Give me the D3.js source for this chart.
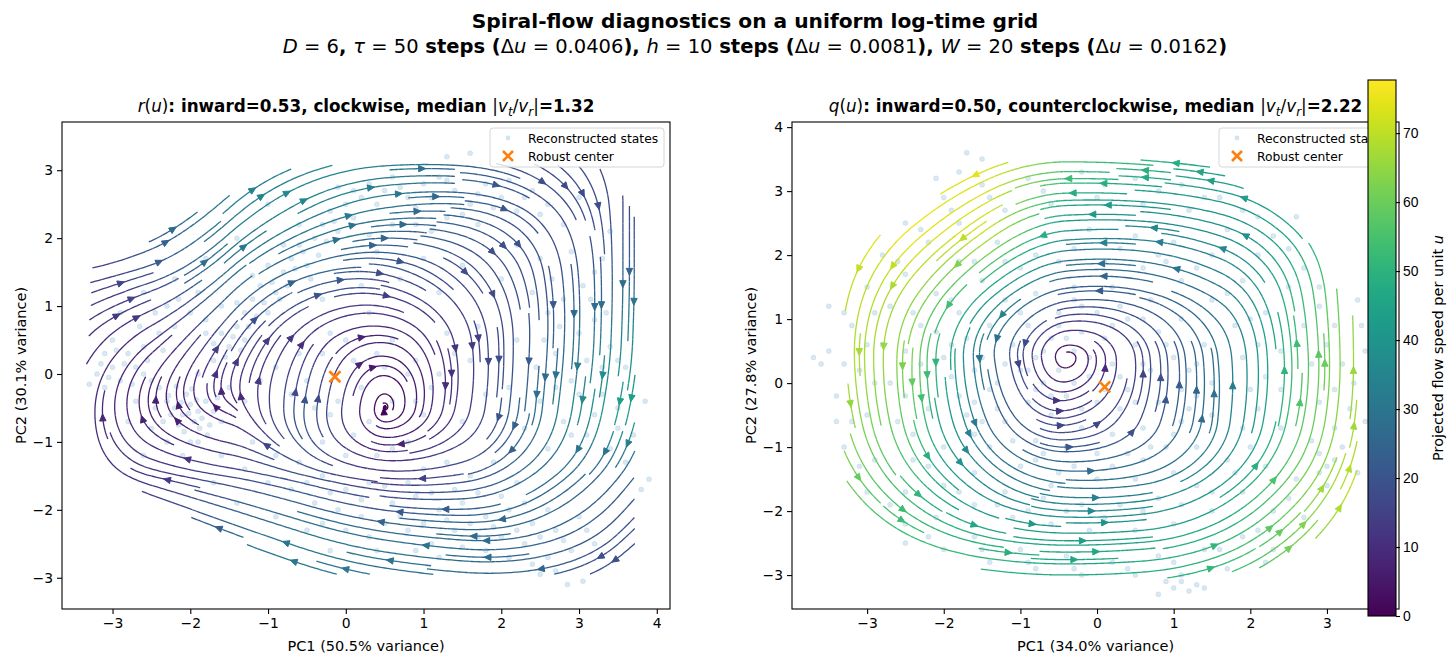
<!DOCTYPE html>
<html lang="en">
<head>
<meta charset="UTF-8">
<title>Spiral-flow diagnostics</title>
<script src="https://d3js.org/d3.v7.min.js"></script>
<style>
  body { margin: 0; background: #fff; }
  svg { display: block; font-family: "DejaVu Sans", sans-serif; }
  text { white-space: pre; }
  .tick text { font-size: 13.9px; fill: #000; }
  .tick line { stroke: #000; stroke-width: 1.1; }
</style>
</head>
<body>
<svg id="chart" width="1456" height="665"></svg>
<script>
// ---- data ----
const speedMax = 77.7;
const colorTicks = [0, 10, 20, 30, 40, 50, 60, 70];

// left panel r(u): flow field nodes, [direction deg, speed]
const leftXNodes = [-3.5, -2.5, -1.5, -0.5, 0.5, 1.5, 2.5, 3.5, 4.5];
const leftYNodes = [3.5, 2.5, 1.5, 0.5, -0.5, -1.5, -2.5, -3.5];
const leftFlow = [
  [[25,14],[35,22],[35,32],[15,38],[0,34],[-5,24],[-25,18],[-70,16],[-90,16]],
  [[15,14],[35,25],[45,34],[30,36],[10,32],[-5,24],[-40,18],[-90,17],[-90,18]],
  [[10,12],[20,20],[45,30],[20,26],[-15,18],[-45,18],[-80,18],[-90,24],[-90,26]],
  [[55,10],[40,10],[60,16],[55,10],[-5,6],[-80,12],[-92,22],[-92,36],[-92,40]],
  [[85,10],[100,6],[150,5],[85,22],[0,0],[-100,12],[-95,30],[-100,44],[-100,44]],
  [[100,10],[165,12],[170,16],[165,20],[175,10],[190,18],[220,28],[235,24],[240,22]],
  [[120,12],[145,18],[155,28],[160,32],[170,30],[175,28],[195,25],[225,18],[230,18]],
  [[130,12],[145,20],[155,30],[160,32],[170,30],[175,28],[185,25],[210,18],[210,18]]
];
const leftHull = [[-3.28,1.58],[-2.6,1.9],[-2.05,2.28],[-1.55,2.65],[-0.95,2.98],[-0.5,3.06],[0.5,3.1],
  [2.5,3.1],[3.25,3.05],[3.6,2.6],[3.72,2.3],[3.72,-2.5],[3.4,-2.95],[-0.4,-2.95],[-1.2,-2.55],
  [-1.85,-2.22],[-2.9,-1.55],[-3.28,-1.1],[-3.35,-0.2]];
const leftBounds = [-3.35, 3.75, -2.98, 3.12];
const leftCenter = [-0.14, -0.04];
const leftStates = [
  [-2.3,-0.4],[-2.2,-0.5],[-2.1,-0.6],[-2.0,-0.45],[-1.9,-0.55],[-1.95,-0.7],[-2.15,-0.75],[-1.8,-0.4],
  [-2.05,-0.3],[-1.85,-0.65],[-2.25,-0.6],[-1.75,-0.75],[-2.4,-0.2],[-2.5,-0.1],[-2.6,0.0],[-2.7,0.1],
  [-2.9,-0.1],[-3.0,0.1],[-3.1,-0.2],[-3.2,0.0],[-2.8,0.3],[-2.6,0.4],[-2.4,0.6],[-2.2,0.7],[-2.0,0.9],
  [-1.8,0.8],[-1.6,0.6],[-1.5,0.4],[-1.4,0.7],[-1.3,0.9],[-1.2,1.1],[-1.1,1.3],[-0.9,1.2],[-0.8,1.5],
  [-0.7,1.7],[-0.6,1.9],[-0.5,1.6],[-0.4,2.0],[-0.3,2.2],[-0.2,2.4],[-0.1,2.1],[0.0,2.5],[0.1,2.3],
  [0.2,2.6],[0.3,2.8],[0.5,2.7],[0.6,2.9],[0.8,2.6],[1.0,2.8],[1.2,2.9],[1.4,2.7],[1.6,2.5],[1.8,2.8],
  [2.0,2.6],[2.2,2.4],[2.4,2.7],[2.6,2.5],[1.7,2.2],[1.3,2.3],[0.9,2.2],[-1.0,0.9],[-1.3,0.5],[-1.6,1.0],
  [-1.9,1.2],[-2.2,1.4],[-2.6,1.2],[-2.9,0.9],[-3.0,0.5],[-1.7,0.2],[-1.9,0.0],[-1.5,-0.2],[-1.3,-0.4],
  [-1.1,-0.1],[-0.9,0.1],[-0.7,-0.3],[-0.5,-0.1],[-0.3,0.3],[0.0,0.5],[0.3,0.9],[0.6,0.5],[0.9,0.2],
  [1.1,-0.2],[1.0,-0.6],[0.8,-1.0],[0.4,-1.2],[0.1,-0.9],[-0.2,-0.6],[0.2,-0.2],[0.6,-0.4],[0.5,0.1],
  [1.3,0.6],[1.6,0.2],[1.8,-0.3],[1.5,-0.7],[1.2,1.2],[0.7,1.4],[0.2,1.3],[-0.3,1.1],[0.4,1.8],[1.0,1.7],
  [1.5,1.6],[2.0,1.4],[2.4,1.2],[2.6,0.9],[2.8,1.1],[3.0,0.6],[3.2,0.8],[3.4,0.4],[3.1,0.2],[2.9,-0.1],
  [3.3,-0.3],[3.5,-0.5],[3.6,0.1],[2.7,0.3],[2.5,-0.4],[2.8,-0.7],[3.1,-0.9],[3.4,-1.1],[3.6,-1.3],
  [2.6,-1.1],[2.3,-0.8],[2.1,-0.2],[2.2,0.5],[2.5,1.7],[2.9,1.8],[3.2,1.5],[3.4,2.1],[2.8,2.2],[3.0,2.6],
  [2.2,1.9],[3.85,-0.4],[3.9,-1.55],[3.8,-1.7],[3.7,-0.9],[-0.6,-1.3],[-0.3,-1.5],[0.0,-1.7],[0.3,-1.6],
  [0.6,-1.9],[0.9,-1.8],[1.2,-2.0],[1.5,-1.9],[1.8,-2.1],[2.1,-2.0],[2.4,-2.2],[2.7,-2.3],[3.0,-2.1],
  [3.2,-2.5],[2.9,-2.6],[2.6,-2.7],[2.3,-2.5],[2.0,-2.4],[1.7,-2.4],[1.4,-2.3],[1.1,-2.5],[0.8,-2.3],
  [0.5,-2.2],[0.2,-2.1],[-0.1,-2.0],[-0.4,-1.9],[-0.7,-1.7],[-1.0,-1.6],[-1.3,-1.4],[-1.6,-1.2],
  [-1.9,-1.0],[-1.2,-1.0],[-0.9,-1.2],[1.6,-1.5],[1.9,-1.3],[2.2,-1.6],[1.3,-1.3],[1.0,-1.4],[-0.5,-2.3],
  [-0.9,-2.1],[-1.4,-1.9],[-1.7,-1.6],[2.5,-2.95],[2.85,-3.1],[3.05,-3.05],[2.7,-2.9],[-0.2,-2.6],
  [0.4,-2.6],[1.3,3.2],[1.6,3.25],[2.1,3.1],[-1.0,2.5],[-1.4,2.0],[-1.8,1.7],[-2.3,1.0],[-3.1,0.3],
  [-3.3,-0.15],[-2.7,-0.4],[-2.8,-0.7],[-2.5,-0.8],[-2.3,-1.0],[-2.6,-1.2],[-2.1,-1.2],
  [-2.12,-0.42],[-2.02,-0.58],[-1.92,-0.38],[-1.88,-0.8],[-2.08,-0.85],[-2.28,-0.32],[-1.7,-0.55],
  [-1.65,-0.35],[-2.35,-0.7],[-1.98,-0.22],[-2.18,-0.18],[-1.78,-0.9],[-1.6,-0.7],[-2.45,-0.5],[-2.0,-1.0],
  [-1.55,0.25],[-1.45,0.55],[-1.35,0.35],[-1.25,0.7],[-1.15,0.85],[-1.05,1.05],[-0.95,1.35],[-0.85,1.1],
  [-0.75,1.3],[-0.65,1.55],[-0.55,1.8],[-0.45,1.4],[-0.35,1.75],[-0.25,1.95],[-0.15,2.25],[-1.4,1.05],
  [-1.2,1.45],[-1.0,1.6],[-0.8,1.9],[-0.6,2.2],[-1.7,0.45],[-1.8,0.6],
  [0.1,2.7],[0.4,2.5],[0.7,2.75],[0.9,2.45],[1.1,2.6],[1.3,2.85],[1.5,2.35],[1.7,2.65],[1.9,2.45],
  [2.1,2.85],[2.3,2.6],[2.5,2.35],[0.6,2.2],[1.1,2.1],[0.3,2.05],[-0.1,2.75],
  [0.7,-2.1],[1.0,-2.2],[1.3,-2.15],[1.6,-2.2],[1.9,-2.25],[2.2,-2.3],[2.5,-2.4],[2.8,-2.45],[3.1,-2.3],
  [1.5,-2.55],[1.8,-2.6],[2.1,-2.7],[2.4,-2.8],[0.9,-2.6],[1.2,-2.7],[0.3,-2.4],[0.0,-2.3],[-0.3,-2.2],
  [2.6,-2.0],[2.3,-1.9],[2.0,-1.8],[1.7,-1.75],[1.4,-1.7],[1.1,-1.75],[0.8,-1.6],[0.5,-1.65],[0.2,-1.85],
  [-0.2,-1.75],[-0.5,-1.6],
  [2.55,0.5],[2.75,0.7],[2.95,0.9],[3.15,1.1],[3.35,0.9],[3.5,0.2],[3.3,0.1],[3.0,-0.3],[3.2,-0.6],
  [2.7,-0.2],[2.9,-0.9],[3.5,-0.8],[2.45,0.1],[2.65,1.4],[3.05,1.3],[3.3,1.7],
  [-3.05,-0.05],[-2.85,0.15],[-2.75,-0.15],[-2.95,0.35],[-3.15,0.15],[-2.55,0.2],[-2.35,0.35],
  [-2.65,0.7],[-2.45,0.9],[-2.15,1.1],
  [-0.4,-0.5],[-0.1,-0.4],[0.3,-0.7],[0.6,-1.1],[0.0,-1.2],[-0.3,-1.0],[0.9,-0.4],[0.8,0.0],[0.4,0.3],
  [0.1,0.2],[-0.6,0.3],[-0.2,0.6],[1.4,0.3],[1.7,0.7],[1.2,0.0]
];

// right panel q(u)
const rightXNodes = [-4.4, -3.4, -2.4, -1.4, -0.4, 0.6, 1.6, 2.6, 3.6, 4.6];
const rightYNodes = [4.4, 3.4, 2.4, 1.4, 0.4, -0.6, -1.6, -2.6, -3.6];
const rightFlow = [
  [[250,74],[230,76],[210,76],[200,74],[180,58],[175,55],[165,50],[150,48],[120,52],[100,56]],
  [[255,74],[235,77],[215,77],[205,74],[180,56],[175,50],[170,45],[145,45],[110,58],[95,62]],
  [[265,72],[245,74],[225,76],[220,72],[185,40],[175,35],[160,38],[130,45],[100,60],[90,64]],
  [[270,70],[260,70],[240,66],[225,45],[190,20],[165,22],[145,30],[100,50],[90,66],[88,68]],
  [[275,70],[272,70],[268,62],[275,25],[0,0],[95,15],[95,28],[92,54],[90,70],[88,70]],
  [[285,66],[280,66],[280,56],[290,25],[10,14],[70,18],[85,30],[80,56],[85,70],[85,70]],
  [[300,62],[300,62],[310,52],[320,35],[355,30],[10,32],[40,42],[55,62],[75,74],[80,72]],
  [[320,56],[320,56],[335,53],[350,50],[0,45],[5,48],[25,52],[45,62],[60,70],[70,70]],
  [[330,54],[335,54],[345,52],[355,50],[0,48],[5,50],[15,52],[35,58],[55,64],[60,64]]
];
const rightHull = [[-3.28,1.6],[-2.85,2.3],[-2.4,2.6],[-2.0,3.0],[-1.3,3.45],[-0.1,3.5],[1.36,3.47],
  [1.85,3.12],[2.25,2.72],[2.55,2.48],[2.98,1.9],[3.12,1.5],[3.38,0.98],[3.4,-1.7],[2.95,-2.35],
  [2.3,-2.88],[1.05,-3.05],[-0.6,-3.0],[-1.35,-2.98],[-2.95,-2.3],[-3.3,-1.45],[-3.3,0.0]];
const rightBounds = [-3.32, 3.42, -3.08, 3.52];
const rightCenter = [0.1, -0.06];
const rightStates = [
  [-0.5,0.2],[-0.3,0.5],[-0.1,0.1],[0.2,0.3],[0.4,-0.1],[0.3,-0.4],[0.0,-0.3],[-0.4,-0.2],[-0.7,0.0],
  [-0.8,0.4],[-0.6,0.7],[-0.2,0.8],[0.1,0.7],[0.5,0.6],[0.7,0.2],[0.8,-0.3],[0.6,-0.7],[0.2,-0.8],
  [-0.2,-0.7],[-0.6,-0.5],[-0.9,-0.3],[-1.0,0.2],[-1.1,0.6],[-0.9,0.9],[-0.5,1.1],[0.0,1.1],[0.4,1.0],
  [0.8,0.8],[1.0,0.4],[1.1,-0.1],[1.1,-0.6],[0.9,-1.0],[0.4,-1.1],[0.0,-1.1],[-0.4,-1.0],[-0.8,-0.9],
  [-1.2,-0.6],[-1.4,-0.1],[-1.5,0.4],[-1.4,0.9],[-1.2,1.3],[-0.8,1.4],[-0.3,1.5],[0.2,1.5],[0.7,1.3],
  [1.1,1.0],[1.4,0.6],[1.5,0.0],[1.5,-0.5],[1.3,-1.0],[1.0,-1.4],[0.5,-1.5],[0.0,-1.5],[-0.5,-1.4],
  [-1.0,-1.3],[-1.4,-1.0],[-1.7,-0.5],[-1.9,0.1],[-1.9,0.6],[-1.8,1.1],[-1.5,1.6],[-1.0,1.8],[-0.5,1.9],
  [0.1,1.9],[0.6,1.8],[1.1,1.6],[1.5,1.3],[1.8,0.9],[1.9,0.4],[2.0,-0.1],[1.9,-0.7],[1.7,-1.2],
  [1.3,-1.6],[0.8,-1.8],[0.3,-1.9],[-0.2,-1.9],[-0.7,-1.8],[-1.2,-1.7],[-1.6,-1.4],[-2.0,-1.0],
  [-2.2,-0.4],[-2.3,0.3],[-2.3,0.9],[-2.1,1.4],[-1.8,1.9],[-1.3,2.2],[-0.7,2.3],[-0.1,2.4],[0.5,2.3],
  [1.0,2.2],[1.5,2.0],[1.9,1.6],[2.2,1.1],[2.4,0.5],[2.4,-0.1],[2.4,-0.7],[2.2,-1.3],[1.9,-1.7],
  [1.5,-2.0],[1.0,-2.2],[0.5,-2.3],[-0.1,-2.3],[-0.6,-2.2],[-1.1,-2.1],[-1.6,-1.9],[-2.0,-1.6],
  [-2.4,-1.2],[-2.6,-0.6],[-2.7,0.0],[-2.8,0.6],[-2.7,1.2],[-2.5,1.7],[-2.2,2.2],[-1.8,2.5],[-1.2,2.7],
  [-0.6,2.8],[0.0,2.9],[0.6,2.8],[1.2,2.7],[1.7,2.4],[2.1,2.0],[2.5,1.5],[2.7,0.9],[2.8,0.3],[2.9,-0.3],
  [2.8,-0.9],[2.6,-1.5],[2.3,-2.0],[1.9,-2.4],[1.4,-2.6],[0.8,-2.7],[0.2,-2.8],[-0.4,-2.7],[-1.0,-2.6],
  [-1.6,-2.4],[-2.1,-2.1],[-2.5,-1.7],[-2.9,-1.2],[-3.0,-0.5],[-3.1,0.2],[-3.2,0.9],[-3.0,1.5],
  [-2.8,2.0],[-2.5,2.5],[-2.0,2.9],[-1.5,3.1],[-0.9,3.2],[-0.2,3.3],[0.5,3.2],[1.1,3.1],[1.6,2.9],
  [2.1,2.6],[2.5,2.1],[2.9,1.5],[3.1,0.9],[3.2,0.3],[3.3,-0.4],[3.2,-1.0],[3.0,-1.6],[2.7,-2.1],
  [2.3,-2.6],[1.7,-2.9],[1.1,-3.0],[0.5,-3.0],[-0.2,-3.0],[-0.8,-2.9],[-1.4,-2.8],[-2.0,-2.6],
  [-2.5,-2.2],[-3.0,-1.7],[-3.3,-1.0],[-3.4,-0.2],[-3.5,0.5],[-3.6,0.3],[3.5,0.5],[3.5,-0.6],[3.4,1.3],
  [3.0,-1.3],[3.1,-1.2],[2.9,-1.4],[1.0,-3.2],[1.1,-3.1],[1.2,-3.25],[1.3,-3.15],[0.9,-3.1],[-1.7,3.6],
  [-1.5,3.5],[-2.1,3.2],[-0.8,-0.1],[-0.3,0.0],[0.1,-0.1],[0.3,0.1],[-0.1,0.4],[-0.4,0.7],[0.6,-1.2],
  [-0.7,-1.1],[-1.3,0.0],[1.3,0.3],[1.2,-0.4],[-1.6,-0.8],[-1.7,0.7],[-0.6,-1.6],[0.9,1.9],
  [-0.9,0.2],[-0.7,0.5],[-0.5,0.9],[-0.2,1.2],[0.3,1.2],[0.6,1.0],[0.9,0.6],[1.2,0.2],[1.3,-0.2],
  [1.0,-0.8],[0.7,-1.0],[0.2,-1.3],[-0.3,-1.3],[-0.8,-1.2],[-1.1,-0.9],[-1.3,-0.4],[-1.2,0.3],[-1.3,0.7],
  [-0.6,-0.2],[-0.2,-0.4],[0.5,-0.3],[0.6,0.3],[0.2,0.9],[-0.3,1.3],[-1.0,1.1],[-1.6,0.2],[-1.6,-0.3],
  [-1.5,-0.6],[-1.8,-0.2],[-2.0,0.4],[-2.1,0.8],[-1.9,1.3],[-1.6,1.9],[-1.2,1.9],[-0.8,2.0],[-0.3,2.1],
  [0.3,2.1],[0.8,2.0],[1.3,1.8],[1.7,1.4],[2.0,1.0],[2.1,0.6],[2.2,0.1],[2.1,-0.4],[2.0,-1.0],[1.8,-1.4],
  [1.5,-1.7],[1.1,-1.9],[0.6,-2.0],[0.1,-2.1],[-0.4,-2.0],[-0.9,-2.0],[-1.3,-1.9],[-1.8,-1.7],
  [-2.2,-1.3],[-2.4,-0.8],[-2.5,-0.2],[-2.5,0.5],[-2.4,1.1],
  [-2.9,0.0],[-3.0,0.6],[-2.9,1.1],[-2.6,1.9],[-2.3,2.4],[-1.9,2.7],[-1.4,2.9],[-0.7,3.0],[0.1,3.1],
  [0.8,3.0],[1.4,2.9],[1.9,2.7],[2.3,2.3],[2.7,1.8],[2.9,1.2],[3.0,0.6],[3.1,-0.1],[3.1,-0.7],[2.9,-1.1],
  [2.5,-1.8],[2.1,-2.3],[1.6,-2.6],[1.0,-2.8],[0.4,-2.9],[-0.3,-2.9],[-0.9,-2.8],[-1.5,-2.6],[-2.2,-2.4],
  [-2.7,-1.9],[-3.1,-1.3],[-3.2,-0.6],[-3.3,0.3],[-3.3,1.1],[-3.1,1.8],
  [-3.7,0.4],[-3.4,-0.6],[-3.5,1.2],[3.4,-1.4],[3.35,0.0],[3.45,0.9],[0.8,-3.3],[1.4,-3.2],[-2.5,-2.5],
  [-1.8,3.3],[2.6,2.6],[2.2,-2.8]
];

// ---- helpers ----
const svg = d3.select("#chart");
const color = s => d3.interpolateViridis(Math.max(0, Math.min(1, s / speedMax)));
const rad = Math.PI / 180;

function startPoints(n) {
  // same spiral seeding order as matplotlib's streamplot
  const out = [];
  let xfirst = 0, yfirst = 1, xlast = n - 1, ylast = n - 1, x = 0, y = 0, dir = "right";
  for (let i = 0; i < n * n; i++) {
    out.push([x, y]);
    if (dir === "right") { x++; if (x >= xlast) { xlast--; dir = "up"; } }
    else if (dir === "up") { y++; if (y >= ylast) { ylast--; dir = "left"; } }
    else if (dir === "left") { x--; if (x <= xfirst) { xfirst++; dir = "down"; } }
    else { y--; if (y <= yfirst) { yfirst++; dir = "right"; } }
  }
  return out;
}

function streamlines(xNodes, yNodesTopDown, flow, hull, bounds, density) {
  const ys = yNodesTopDown.slice().reverse();
  const rows = flow.slice().reverse();
  const U = rows.map(r => r.map(([a, s]) => s * Math.cos(a * rad)));
  const V = rows.map(r => r.map(([a, s]) => s * Math.sin(a * rad)));
  const S = rows.map(r => r.map(([a, s]) => s));
  function bil(G, x, y) {
    let i = Math.max(0, Math.min(xNodes.length - 2, d3.bisectRight(xNodes, x) - 1));
    let j = Math.max(0, Math.min(ys.length - 2, d3.bisectRight(ys, y) - 1));
    const tx = (x - xNodes[i]) / (xNodes[i + 1] - xNodes[i]);
    const ty = (y - ys[j]) / (ys[j + 1] - ys[j]);
    return G[j][i] * (1 - tx) * (1 - ty) + G[j][i + 1] * tx * (1 - ty)
         + G[j + 1][i] * (1 - tx) * ty + G[j + 1][i + 1] * tx * ty;
  }
  const [x0, x1, y0, y1] = bounds;
  const n = Math.round(30 * density);
  const sx = (x1 - x0) / (n - 1), sy = (y1 - y0) / (n - 1);
  const mask = new Uint8Array(n * n);
  const toData = (mx, my) => [x0 + mx * sx, y0 + my * sy];
  function vel(mx, my) {
    if (mx < 0 || my < 0 || mx > n - 1 || my > n - 1) return null;
    const p = toData(mx, my);
    if (!d3.polygonContains(hull, p)) return null;
    const u = bil(U, p[0], p[1]) / sx, v = bil(V, p[0], p[1]) / sy;
    const s = Math.hypot(u, v);
    return s < 1e-9 ? null : [u / s, v / s];
  }
  const step = 0.25, maxLen = 4 * (n - 1), minLen = 0.1 * (n - 1);
  let traj = [], cur = -1;
  function visit(mx, my) {
    const key = Math.floor(my + 0.5) * n + Math.floor(mx + 0.5);
    if (key === cur) return true;
    if (mask[key]) return false;
    mask[key] = 1; traj.push(key); cur = key;
    return true;
  }
  function integrate(mx, my, dir) {
    const pts = [];
    let len = 0;
    while (len < maxLen) {
      const k1 = vel(mx, my); if (!k1) break;
      const k2 = vel(mx + dir * step * k1[0], my + dir * step * k1[1]); if (!k2) break;
      mx += dir * step * 0.5 * (k1[0] + k2[0]);
      my += dir * step * 0.5 * (k1[1] + k2[1]);
      if (mx < 0 || my < 0 || mx > n - 1 || my > n - 1) break;
      if (!visit(mx, my)) break;
      pts.push([mx, my]);
      len += step;
    }
    return [pts, len];
  }
  const lines = [];
  startPoints(n).forEach(([cx, cy]) => {
    if (mask[cy * n + cx] || !vel(cx, cy)) return;
    traj = []; cur = -1; visit(cx, cy);
    const [back, lb] = integrate(cx, cy, -1);
    cur = cy * n + cx;
    const [fwd, lf] = integrate(cx, cy, 1);
    if (lb + lf > minLen) {
      const pts = back.reverse().concat([[cx, cy]], fwd).map(p => toData(p[0], p[1]));
      lines.push(pts.map(([x, y]) => [x, y, bil(S, x, y)]));
    } else {
      traj.forEach(k => { mask[k] = 0; });
    }
  });
  return lines;
}

function rich(sel, parts) {
  let shift = 0;
  parts.forEach(([s, k]) => {
    const t = sel.append("tspan").text(s)
      .attr("font-weight", k === "b" ? "bold" : "normal")
      .attr("font-style", (k === "i" || k === "si") ? "italic" : "normal");
    const want = k === "si" ? 4 : 0;
    if (want !== shift) { t.attr("dy", want - shift); shift = want; }
    if (k === "si") t.attr("font-size", "0.72em");
  });
}

function xMarker(g, cx, cy, size, stroke) {
  const h = size / 2;
  g.append("path")
    .attr("d", `M${cx - h},${cy - h}L${cx + h},${cy + h}M${cx - h},${cy + h}L${cx + h},${cy - h}`)
    .attr("stroke", stroke).attr("stroke-width", 2.6).attr("fill", "none");
}

function drawPanel(p) {
  const x = d3.scaleLinear().domain(p.xDomain).range([p.left, p.right]);
  const y = d3.scaleLinear().domain(p.yDomain).range([p.bottom, p.top]);
  const g = svg.append("g");
  const clipId = "clip-" + p.id;
  svg.append("clipPath").attr("id", clipId).append("rect")
    .attr("x", p.left).attr("y", p.top).attr("width", p.right - p.left).attr("height", p.bottom - p.top);
  const inner = g.append("g").attr("clip-path", `url(#${clipId})`);

  inner.append("g").selectAll("circle").data(p.states).join("circle")
    .attr("cx", d => x(d[0])).attr("cy", d => y(d[1])).attr("r", 2.5)
    .attr("fill", "#1f77b4").attr("fill-opacity", 0.17)
    .attr("stroke", "#1f77b4").attr("stroke-opacity", 0.17).attr("stroke-width", 0.6);

  const lines = streamlines(p.xNodes, p.yNodes, p.flow, p.hull, p.bounds, p.density);
  const lg = inner.append("g").attr("fill", "none").attr("stroke-width", 1.3);
  const line = d3.line().x(d => x(d[0])).y(d => y(d[1]));
  const bin = s => Math.round(Math.min(1, s / speedMax) * 80);
  lines.forEach(pts => {
    let start = 0;
    for (let i = 1; i < pts.length; i++) {
      if (i === pts.length - 1 || bin(pts[i][2]) !== bin(pts[start][2])) {
        lg.append("path").attr("d", line(pts.slice(start, i + 1))).attr("stroke", color(pts[start][2]));
        start = i;
      }
    }
  });
  // arrow heads at the middle of each streamline
  const ag = inner.append("g");
  lines.forEach(pts => {
    const cum = [0];
    for (let i = 1; i < pts.length; i++) cum.push(cum[i - 1] + Math.hypot(pts[i][0] - pts[i - 1][0], pts[i][1] - pts[i - 1][1]));
    let k = Math.min(pts.length - 2, d3.bisectLeft(cum, cum[cum.length - 1] / 2));
    k = Math.max(0, k);
    const tail = [x(pts[k][0]), y(pts[k][1])];
    const head = [(x(pts[k][0]) + x(pts[k + 1][0])) / 2, (y(pts[k][1]) + y(pts[k + 1][1])) / 2];
    const a = Math.atan2(head[1] - tail[1], head[0] - tail[0]);
    const L = 7, W = 3.2, c = Math.cos(a), s = Math.sin(a);
    const bx = head[0] - L * c, by = head[1] - L * s;
    const col = color(pts[k][2]);
    ag.append("path")
      .attr("d", `M${head[0]},${head[1]}L${bx - W * s},${by + W * c}L${bx + W * s},${by - W * c}Z`)
      .attr("fill", col).attr("stroke", col).attr("stroke-width", 1).attr("stroke-linejoin", "miter");
  });
  xMarker(inner, x(p.center[0]), y(p.center[1]), 11, "#ff7f0e");

  // axes
  const fmt = d3.format("d");
  g.append("g").attr("transform", `translate(0,${p.bottom})`)
    .call(d3.axisBottom(x).tickValues(p.xTicks).tickFormat(fmt).tickSize(5).tickSizeOuter(0).tickPadding(4))
    .call(a => a.select(".domain").remove());
  g.append("g").attr("transform", `translate(${p.left},0)`)
    .call(d3.axisLeft(y).tickValues(p.yTicks).tickFormat(fmt).tickSize(5).tickSizeOuter(0).tickPadding(4))
    .call(a => a.select(".domain").remove());
  g.selectAll(".tick text").attr("font-family", "DejaVu Sans");
  g.append("rect").attr("x", p.left).attr("y", p.top)
    .attr("width", p.right - p.left).attr("height", p.bottom - p.top)
    .attr("fill", "none").attr("stroke", "#000").attr("stroke-width", 1.1);

  g.append("text").attr("x", (p.left + p.right) / 2).attr("y", 651)
    .attr("text-anchor", "middle").attr("font-size", 14.5).text(p.xLabel);
  g.append("text").attr("transform", `translate(${p.left - 36},${(p.top + p.bottom) / 2}) rotate(-90)`)
    .attr("text-anchor", "middle").attr("font-size", 14.5).text(p.yLabel);
  rich(g.append("text").attr("x", (p.left + p.right) / 2).attr("y", 112)
    .attr("text-anchor", "middle").attr("font-size", 16.8), p.title);

  // legend
  const lx = p.right - 180, ly = p.top + 6;
  const leg = g.append("g");
  leg.append("rect").attr("x", lx).attr("y", ly).attr("width", 174).attr("height", 39).attr("rx", 3)
    .attr("fill", "#fff").attr("fill-opacity", 0.8).attr("stroke", "#d6d6d6");
  leg.append("circle").attr("cx", lx + 18).attr("cy", ly + 10).attr("r", 2.4)
    .attr("fill", "#1f77b4").attr("fill-opacity", 0.2);
  leg.append("text").attr("x", lx + 38).attr("y", ly + 14.5).attr("font-size", 12.3).text("Reconstructed states");
  xMarker(leg, lx + 18, ly + 28, 10, "#ff7f0e");
  leg.append("text").attr("x", lx + 38).attr("y", ly + 32.5).attr("font-size", 12.3).text("Robust center");
}

// ---- suptitle (centred slightly right of the page centre, as in the source) ----
const titleX = 755;
svg.append("text").attr("x", titleX).attr("y", 28).attr("text-anchor", "middle")
  .attr("font-size", 20.2).attr("font-weight", "bold")
  .text("Spiral-flow diagnostics on a uniform log-time grid");
rich(svg.append("text").attr("x", titleX).attr("y", 53).attr("text-anchor", "middle").attr("font-size", 19.5), [
  ["D", "i"], [" = 6", "r"], [", ", "b"], ["τ", "i"], [" = 50", "r"], [" steps (", "b"],
  ["Δ", "r"], ["u", "i"], [" = 0.0406", "r"], ["), ", "b"], ["h", "i"], [" = 10", "r"], [" steps (", "b"],
  ["Δ", "r"], ["u", "i"], [" = 0.0081", "r"], ["), ", "b"], ["W", "i"], [" = 20", "r"], [" steps (", "b"],
  ["Δ", "r"], ["u", "i"], [" = 0.0162", "r"], [")", "b"]
]);

drawPanel({
  id: "r", left: 62, right: 670, top: 122, bottom: 609,
  xDomain: [-3.65, 4.17], yDomain: [-3.46, 3.71],
  xTicks: [-3, -2, -1, 0, 1, 2, 3, 4], yTicks: [-3, -2, -1, 0, 1, 2, 3],
  xNodes: leftXNodes, yNodes: leftYNodes, flow: leftFlow, hull: leftHull, bounds: leftBounds,
  density: 2.0, states: leftStates, center: leftCenter,
  xLabel: "PC1 (50.5% variance)", yLabel: "PC2 (30.1% variance)",
  title: [["r", "i"], ["(", "r"], ["u", "i"], [")", "r"], [": inward=0.53, clockwise, median ", "b"],
    ["|", "r"], ["v", "i"], ["t", "si"], ["/", "r"], ["v", "i"], ["r", "si"], ["|", "r"], ["=1.32", "b"]]
});
drawPanel({
  id: "q", left: 792, right: 1399, top: 122, bottom: 609,
  xDomain: [-3.98, 3.94], yDomain: [-3.53, 4.08],
  xTicks: [-3, -2, -1, 0, 1, 2, 3], yTicks: [-3, -2, -1, 0, 1, 2, 3, 4],
  xNodes: rightXNodes, yNodes: rightYNodes, flow: rightFlow, hull: rightHull, bounds: rightBounds,
  density: 2.0, states: rightStates, center: rightCenter,
  xLabel: "PC1 (34.0% variance)", yLabel: "PC2 (27.8% variance)",
  title: [["q", "i"], ["(", "r"], ["u", "i"], [")", "r"], [": inward=0.50, counterclockwise, median ", "b"],
    ["|", "r"], ["v", "i"], ["t", "si"], ["/", "r"], ["v", "i"], ["r", "si"], ["|", "r"], ["=2.22", "b"]]
});

// ---- colorbar ----
const cb = { left: 1368, width: 28, top: 80, bottom: 616 };
const grad = svg.append("defs").append("linearGradient").attr("id", "viridis")
  .attr("x1", 0).attr("y1", 1).attr("x2", 0).attr("y2", 0);
d3.range(0, 1.0001, 0.05).forEach(t => grad.append("stop").attr("offset", t).attr("stop-color", d3.interpolateViridis(t)));
svg.append("rect").attr("x", cb.left).attr("y", cb.top).attr("width", cb.width).attr("height", cb.bottom - cb.top)
  .attr("fill", "url(#viridis)").attr("stroke", "#000").attr("stroke-width", 1.1);
const cbScale = d3.scaleLinear().domain([0, speedMax]).range([cb.bottom, cb.top]);
svg.append("g").attr("transform", `translate(${cb.left + cb.width},0)`)
  .call(d3.axisRight(cbScale).tickValues(colorTicks).tickFormat(d3.format("d")).tickSize(4).tickSizeOuter(0).tickPadding(3))
  .call(a => a.select(".domain").remove());
rich(svg.append("text").attr("transform", `translate(1443,${(cb.top + cb.bottom) / 2}) rotate(-90)`)
  .attr("text-anchor", "middle").attr("font-size", 14.5),
  [["Projected flow speed per unit ", "r"], ["u", "i"]]);
</script>
</body>
</html>
